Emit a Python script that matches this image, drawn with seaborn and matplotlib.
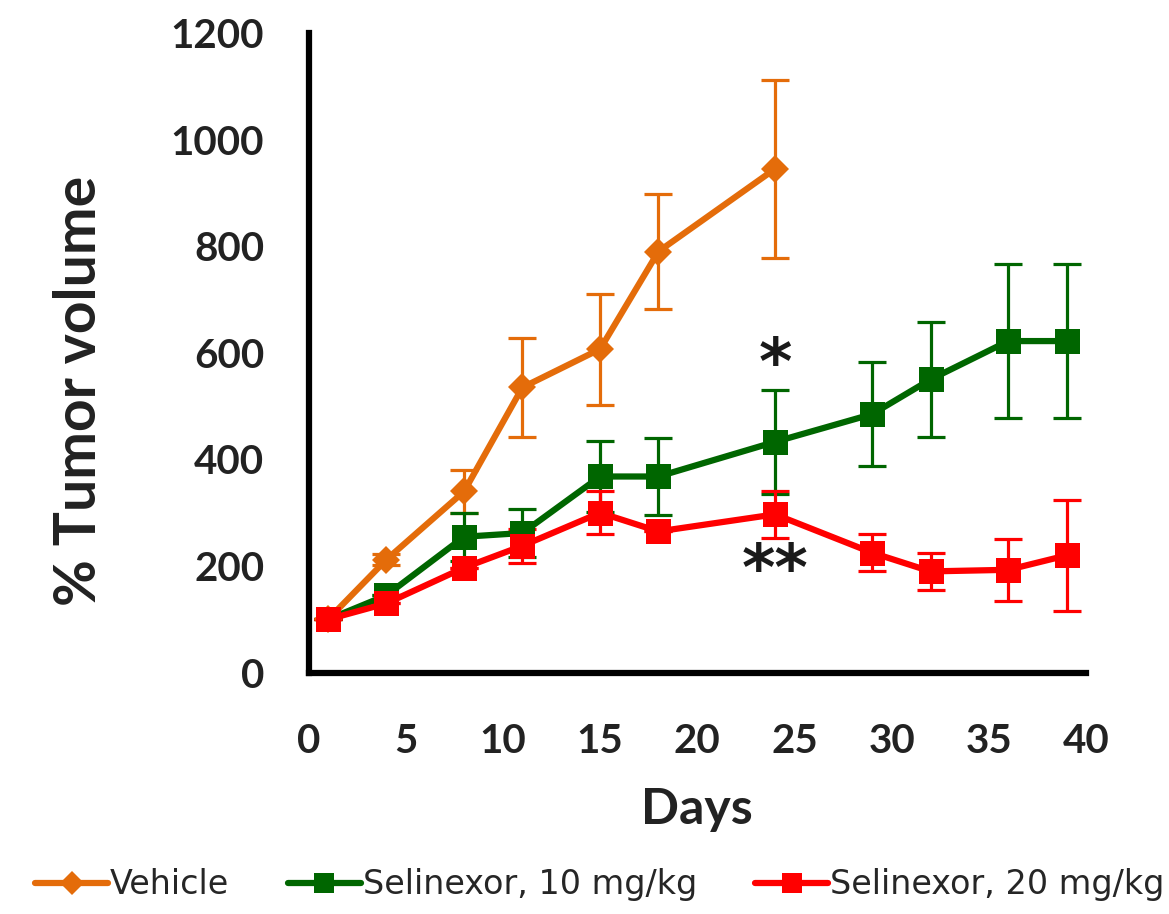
import numpy as np
import pandas as pd
import matplotlib
matplotlib.use("Agg")
import matplotlib.pyplot as plt
import seaborn as sns
from matplotlib.lines import Line2D

# data
days_vehicle = [1, 4, 8, 11, 15, 18, 24]
vehicle = [100, 212, 340, 535, 607, 790, 945]
vehicle_err = [0, 10, 40, 93, 104, 108, 167]

days_sel = [1, 4, 8, 11, 15, 18, 24, 29, 32, 36, 39]
sel10 = [100, 145, 255, 262, 368, 368, 433, 485, 550, 622, 622]
sel10_err = [0, 0, 45, 45, 66, 72, 98, 97, 107, 145, 145]
sel20 = [100, 130, 197, 238, 300, 265, 297, 225, 190, 193, 220]
sel20_err = [0, 0, 0, 32, 40, 0, 44, 35, 35, 58, 104]

labels = ["Vehicle", "Selinexor, 10 mg/kg", "Selinexor, 20 mg/kg"]
colors = ["#E46C0A", "#006600", "#FF0000"]

df = pd.concat([
    pd.DataFrame({"day": days_vehicle, "vol": vehicle, "grp": labels[0]}),
    pd.DataFrame({"day": days_sel, "vol": sel10, "grp": labels[1]}),
    pd.DataFrame({"day": days_sel, "vol": sel20, "grp": labels[2]}),
])

sns.set_style("white")
plt.rcParams['font.family'] = ['Lato', 'DejaVu Sans']

fig = plt.figure(figsize=(11.69, 9.14), dpi=100)
ax = fig.add_axes([0.264, 0.264, 0.665, 0.7])

# error bars first so lines sit on top
errs = [(days_vehicle, vehicle, vehicle_err), (days_sel, sel10, sel10_err), (days_sel, sel20, sel20_err)]
for (x, y, e), c in zip(errs, colors):
    ax.errorbar(x, y, yerr=e, fmt="none", ecolor=c, elinewidth=2.3, capsize=10, capthick=2.3, zorder=2)

sns.lineplot(data=df, x="day", y="vol", hue="grp", style="grp", palette=colors,
             markers={labels[0]: "D", labels[1]: "s", labels[2]: "s"}, dashes=False,
             linewidth=4.5, markersize=18, markeredgewidth=0, ax=ax, legend=False, zorder=3)
# smaller diamond for vehicle
ax.lines[-3].set_markersize(14)

ax.set_xlim(0, 40)
ax.set_ylim(0, 1200)
ax.set_xticks(range(0, 41, 5))
ax.set_yticks(range(0, 1201, 200))
for s in ["top", "right"]:
    ax.spines[s].set_visible(False)
for s in ["left", "bottom"]:
    ax.spines[s].set_linewidth(4.5)
    ax.spines[s].set_color("black")
ax.tick_params(direction="in", length=11, width=4.5, colors="black")
ax.tick_params(axis="y", pad=32)
ax.tick_params(axis="x", pad=36)
for lab in ax.get_xticklabels() + ax.get_yticklabels():
    lab.set_fontsize(29)
    lab.set_fontweight("bold")
    lab.set_color("#222222")

ax.set_xlabel("Days", fontsize=36, fontweight="bold", color="#222222", labelpad=20)
ax.set_ylabel("% Tumor volume", fontsize=41, fontweight="bold", color="#222222")
ax.yaxis.set_label_coords(-0.295, 0.44)
ax.yaxis.label.set_va("center")

ax.text(24, 575, "*", fontsize=46, fontweight="bold", ha="center", va="center", color="#1a1a1a",
        family="DejaVu Sans")
ax.text(24, 188, "**", fontsize=46, fontweight="bold", ha="center", va="center", color="#1a1a1a",
        family="DejaVu Sans")

handles = [
    Line2D([], [], color=colors[0], lw=4.5, marker="D", markersize=12, markeredgewidth=0),
    Line2D([], [], color=colors[1], lw=4.5, marker="s", markersize=15, markeredgewidth=0),
    Line2D([], [], color=colors[2], lw=4.5, marker="s", markersize=15, markeredgewidth=0),
]
fig.legend(handles, labels, loc="center", bbox_to_anchor=(0.513, 0.032), ncol=3, frameon=False,
           handlelength=2.2, handletextpad=0.05, columnspacing=1.75,
           prop={"family": ["DejaVu Sans"], "size": 24})

fig.savefig("out.png", dpi=100)
